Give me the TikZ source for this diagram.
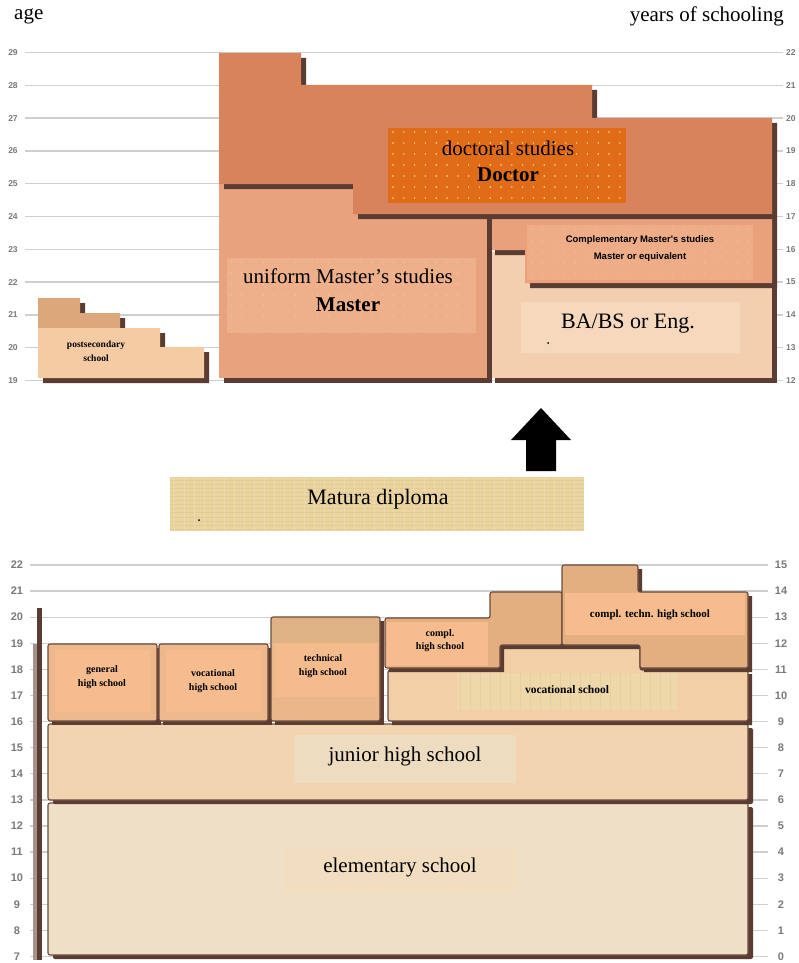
\documentclass[tikz,border=0pt]{standalone}
\usepackage{fontspec}
\setmainfont{Liberation Serif}
\newfontfamily\lblfont{Liberation Sans}
\begin{document}
\begin{tikzpicture}[x=1pt,y=-1pt,
  shad/.style={fill=shadowc},
  gridl/.style={draw=gridc,line width=1.3pt},
  axl/.style={font=\lblfont\bfseries\fontsize{8.5}{8.5}\selectfont,text=labc,inner sep=0pt},
  axlb/.style={font=\lblfont\bfseries\fontsize{11}{11}\selectfont,text=labc,inner sep=0pt},
  bblk/.style={draw=edgec,line width=1.1pt,rounded corners=2pt},
  big/.style={font=\fontsize{21}{24}\selectfont,align=center,inner sep=0pt},
  bigb/.style={font=\bfseries\fontsize{21}{24}\selectfont,align=center,inner sep=0pt},
  small/.style={font=\bfseries\fontsize{10}{14}\selectfont,align=center,inner sep=0pt},
]
\definecolor{shadowc}{HTML}{5B3C32}
\definecolor{edgec}{HTML}{6B4A3E}
\definecolor{gridc}{HTML}{CFCFCF}
\definecolor{labc}{HTML}{7A7A7A}
\definecolor{docc}{HTML}{D8835B}
\definecolor{docp}{HTML}{E06C18}
\definecolor{dotc}{HTML}{FFE38C}
\definecolor{umc}{HTML}{E8A27E}
\definecolor{ump}{HTML}{EEB08A}
\definecolor{cmc}{HTML}{E9A17B}
\definecolor{cmp}{HTML}{EEAD86}
\definecolor{bac}{HTML}{F3CEAF}
\definecolor{bap}{HTML}{F6D8BD}
\definecolor{pstop}{HTML}{DCA77A}
\definecolor{psbody}{HTML}{F5CBA3}
\definecolor{papc}{HTML}{EAD49F}
\definecolor{papd}{HTML}{D6BC84}
\definecolor{hsc}{HTML}{EDB88B}
\definecolor{hsp}{HTML}{F6BC8E}
\definecolor{techtop}{HTML}{DEB285}
\definecolor{chsc}{HTML}{E4AF80}
\definecolor{vsc}{HTML}{F2CFA7}
\definecolor{vsp}{HTML}{EED8A9}
\definecolor{jhc}{HTML}{F3D4B0}
\definecolor{jhp}{HTML}{EEDCC0}
\definecolor{elc}{HTML}{EEDFC6}
\definecolor{elp}{HTML}{F1DDC0}

\fill[white] (0,0) rectangle (798,963);
\useasboundingbox (0,0) rectangle (798,963);

% ---------- top axes ----------
\node[anchor=west,font=\fontsize{21}{21}\selectfont,inner sep=0pt] (agelbl) at (14,16) {age};
\node[anchor=east,font=\fontsize{21}{21}\selectfont,inner sep=0pt] (yoslbl) at (784,16) {years of schooling};
\foreach \a [evaluate=\a as \yy using {52.5+(29-\a)*32.8}, evaluate=\a as \ys using {int(\a-7)}] in {19,...,29} {
  \draw[gridl] (25,\yy) -- (783,\yy);
  \node[axl] (tl\a) at (13,\yy) {\a};
  \node[axl,anchor=west] (tr\a) at (786,\yy) {\ys};
}

% ---------- postsecondary ----------
\fill[shad,shift={(5,5)}] (38,298)--(80,298)--(80,313)--(120,313)--(120,328)--(160,328)--(160,347)--(204,347)--(204,378)--(38,378)--cycle;
\fill[pstop] (38,298)--(80,298)--(80,313)--(120,313)--(120,328)--(38,328)--cycle;
\fill[psbody] (38,328)--(160,328)--(160,347)--(204,347)--(204,378)--(38,378)--cycle;
\node[small,font=\bfseries\fontsize{9.5}{14}\selectfont] (post) at (96,351) {postsecondary\\school};

% ---------- BA block ----------
\fill[shad,shift={(5,5)}] (490,252)--(772,252)--(772,378)--(490,378)--cycle;
\fill[bac] (490,252)--(772,252)--(772,378)--(490,378)--cycle;
\fill[bap] (521,302) rectangle (740,353);
\node[big,font=\fontsize{22}{24}\selectfont] (ba) at (628,324) {BA/BS or Eng.};
\fill[black] (548,343) circle (1);

% ---------- complementary master ----------
\fill[shad,shift={(5,5)}] (490,214)--(772,214)--(772,283)--(525,283)--(525,250)--(490,250)--cycle;
\fill[cmc] (490,214)--(772,214)--(772,283)--(525,283)--(525,250)--(490,250)--cycle;
\fill[cmp] (527,225) rectangle (753,280);
\foreach \i in {0,...,20} \foreach \j in {0,...,4}
  \fill[cmc!60!white] ({532+\i*10.8},{230+\j*11}) circle (0.6);
\node[small,font=\lblfont\bfseries\fontsize{9.5}{17}\selectfont] (cms) at (640,249) {Complementary Master's studies\\Master or equivalent};

% ---------- uniform master ----------
\fill[shad,shift={(5,5)}] (219,184)--(487,184)--(487,378)--(219,378)--cycle;
\fill[umc] (219,184)--(487,184)--(487,378)--(219,378)--cycle;
\fill[ump] (227,258) rectangle (476,333);
\foreach \i in {0,...,22} \foreach \j in {0,...,6}
  \fill[ump!60!white] ({231+\i*10.8},{262+\j*11}) circle (0.6);
\node[big] (ums) at (348,276) {uniform Master's studies};
\node[bigb] (umd) at (348,305) {Master};

% ---------- doctor ----------
\fill[shad,shift={(5,5)}] (219,53)--(301,53)--(301,85)--(592,85)--(592,118)--(772,118)--(772,214)--(353,214)--(353,184)--(219,184)--cycle;
\fill[docc] (219,53)--(301,53)--(301,85)--(592,85)--(592,118)--(772,118)--(772,214)--(353,214)--(353,184)--(219,184)--cycle;
\fill[docp] (388,128) rectangle (626,203);
\foreach \i in {0,...,21} \foreach \j in {0,...,6}
  \fill[dotc] ({393+\i*10.8},{132+\j*11}) circle (0.8);
\node[big] (doc) at (508,148) {doctoral studies};
\node[bigb] (docd) at (508,175) {Doctor};

% ---------- arrow and Matura ----------
\fill[black] (541,408)--(571,440)--(556,440)--(556,471)--(526,471)--(526,440)--(511,440)--cycle;
\fill[papc] (170,477) rectangle (584,531);
\foreach \k in {0,...,12}
  \draw[papd,opacity=0.35,line width=0.8pt] (170,{480+\k*4.1}) -- (584,{480+\k*4.1});
\foreach \k in {0,...,40}
  \draw[white,opacity=0.18,line width=1pt] ({174+\k*10},477) -- ({174+\k*10},531);
\node[big,font=\fontsize{22}{24}\selectfont] (mat) at (378,499) {Matura diploma};
\fill[black] (199,520) circle (1);

% ---------- bottom axes ----------
\foreach \a [evaluate=\a as \yy using {565+(22-\a)*26.1}, evaluate=\a as \ys using {int(\a-7)}] in {7,...,22} {
  \draw[gridl] (30,\yy) -- (768,\yy);
  \node[axlb] (bl\a) at (17,\yy) {\a};
  \node[axlb] (br\a) at (781,\yy) {\ys};
}
\fill[edgec!60] (33,644) rectangle (37,960);
\fill[shadowc] (37,608) rectangle (42,960);

% elementary
\fill[shad,shift={(5,4)},rounded corners=2pt] (48,803) rectangle (748,955);
\draw[bblk,fill=elc] (48,803) rectangle (748,955);
\fill[elp] (285,847) rectangle (518,893);
\node[big] (elem) at (400,867) {elementary school};

% junior
\fill[shad,shift={(5,4)},rounded corners=2pt] (48,724) rectangle (748,800);
\draw[bblk,fill=jhc] (48,724) rectangle (748,800);
\fill[jhp] (294,735) rectangle (516,783);
\node[big] (junior) at (405,756) {junior high school};

% row blocks
\fill[shad,shift={(4,4)}] (48,644) rectangle (157,721);
\draw[bblk,fill=hsc] (48,644) rectangle (157,721);
\fill[hsp] (55,650) rectangle (150,712);
\node[small] (genhs) at (102,677) {general\\high school};

\fill[shad,shift={(4,4)}] (159,644) rectangle (268,721);
\draw[bblk,fill=hsc] (159,644) rectangle (268,721);
\fill[hsp] (166,650) rectangle (261,712);
\node[small] (vochs) at (213,681) {vocational\\high school};

\fill[shad,shift={(4,4)}] (271,617) rectangle (380,721);
\draw[bblk,fill=hsc!85!techtop] (271,617) rectangle (380,721);
\fill[techtop] (272,618) rectangle (379,643);
\fill[hsp!92!techtop] (275,643) rectangle (377,697);
\node[small] (techhs) at (323,666) {technical\\high school};

\fill[shad,shift={(4,4)}] (388,670)--(500,670)--(500,647)--(640,647)--(640,670)--(748,670)--(748,721)--(388,721)--cycle;
\draw[bblk,fill=vsc] (388,670)--(500,670)--(500,647)--(640,647)--(640,670)--(748,670)--(748,721)--(388,721)--cycle;
\fill[vsp] (457,673) rectangle (677,710);
\foreach \k in {0,...,21}
  \draw[papd,opacity=0.25,line width=0.8pt] ({460+\k*10},673) -- ({460+\k*10},710);
\node[small,font=\bfseries\fontsize{11.5}{12}\selectfont] (vocs) at (567,690) {vocational school};

\fill[shad,shift={(4,4)}] (385,618)--(490,618)--(490,592)--(562,592)--(562,645)--(500,645)--(500,668)--(385,668)--cycle;
\draw[bblk,fill=chsc] (385,618)--(490,618)--(490,592)--(562,592)--(562,645)--(500,645)--(500,668)--(385,668)--cycle;
\fill[hsp] (387,622) rectangle (488,666);
\node[small,font=\bfseries\fontsize{10}{13}\selectfont] (cplhs) at (440,641) {compl.\\high school};

\fill[shad,shift={(4,4)}] (562,565)--(638,565)--(638,592)--(748,592)--(748,668)--(640,668)--(640,645)--(562,645)--cycle;
\draw[bblk,fill=chsc] (562,565)--(638,565)--(638,592)--(748,592)--(748,668)--(640,668)--(640,645)--(562,645)--cycle;
\fill[hsp] (565,593) rectangle (745,635);
\node[small,font=\bfseries\fontsize{11}{12}\selectfont] (cplths) at (650,615) {compl. techn. high school};
\end{tikzpicture}
\end{document}
